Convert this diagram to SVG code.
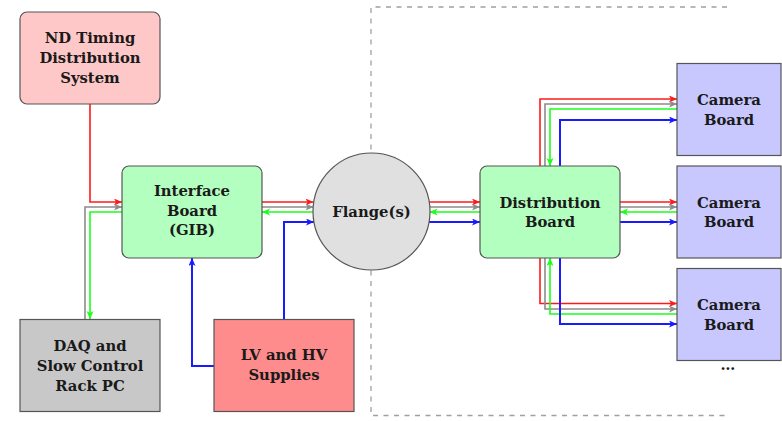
<svg xmlns="http://www.w3.org/2000/svg" width="782" height="421" viewBox="0 0 782 421">
<defs>
<style>
.node{stroke:#555;stroke-width:1.2}
.t{font-family:"DejaVu Serif","Liberation Serif",serif;font-weight:bold;font-size:14.8px;fill:#1a1a1a;text-anchor:middle}
.c{fill:none;stroke-width:1.6}
.r{stroke:#ff1a1a;marker-end:url(#ar)}
.g{stroke:#8c8c8c;marker-end:url(#ag)}
.gr{stroke:#1aff1a;marker-end:url(#agr)}
.b{stroke:#1a1aff;stroke-width:2;marker-end:url(#ab)}
</style>
<marker id="ar" markerUnits="userSpaceOnUse" markerWidth="10" markerHeight="8" refX="8" refY="3.5" orient="auto"><path d="M0,0 L8,3.5 L0,7 L2,3.5 z" fill="#ff1a1a"/></marker>
<marker id="ag" markerUnits="userSpaceOnUse" markerWidth="10" markerHeight="8" refX="8" refY="3.5" orient="auto"><path d="M0,0 L8,3.5 L0,7 L2,3.5 z" fill="#8c8c8c"/></marker>
<marker id="agr" markerUnits="userSpaceOnUse" markerWidth="10" markerHeight="8" refX="8" refY="3.5" orient="auto"><path d="M0,0 L8,3.5 L0,7 L2,3.5 z" fill="#1aff1a"/></marker>
<marker id="ab" markerUnits="userSpaceOnUse" markerWidth="10" markerHeight="8" refX="8" refY="3.5" orient="auto"><path d="M0,0 L8,3.5 L0,7 L2,3.5 z" fill="#1a1aff"/></marker>
</defs>
<rect width="782" height="421" fill="#fff"/>
<path id="boundary" d="M727,7 H371 V415.5 H727" fill="none" stroke="#a0a0a0" stroke-width="1.3" stroke-dasharray="5,5.5"/>
<g id="connectors">
<path class="c r" d="M90,104 V202 H122"/>
<path class="c g" d="M85,319 V207 H122"/>
<path class="c gr" d="M122,212 H90 V319"/>
<path class="c r" d="M262,202 H313.5"/>
<path class="c g" d="M262,207 H313.5"/>
<path class="c gr" d="M313.5,212 H262"/>
<path class="c b" d="M284,319 V222 H314"/>
<path class="c b" d="M214,366 H192 V258"/>
<path class="c r" d="M429.5,202 H480"/>
<path class="c g" d="M429.5,207 H480"/>
<path class="c gr" d="M480,212 H429.5"/>
<path class="c b" d="M429,222 H480"/>
<path class="c r" d="M620,202 H677"/>
<path class="c g" d="M620,207 H677"/>
<path class="c gr" d="M677,212 H620"/>
<path class="c b" d="M620,222 H677"/>
<path class="c r" d="M540,166 V99 H677"/>
<path class="c g" d="M545,166 V104 H677"/>
<path class="c gr" d="M677,109 H550 V166"/>
<path class="c b" d="M560,166 V120 H677"/>
<path class="c r" d="M540,258 V303.5 H677"/>
<path class="c g" d="M545,258 V309 H677"/>
<path class="c gr" d="M677,314 H550 V258"/>
<path class="c b" d="M560,258 V324 H677"/>
</g>
<g id="nd-timing">
<rect class="node" x="20" y="12" width="140" height="92" rx="7" fill="#ffc8c8"/>
<text class="t" x="90" y="42.5">ND Timing</text>
<text class="t" x="90" y="62.5">Distribution</text>
<text class="t" x="90" y="82.5">System</text>
</g>
<g id="interface-board">
<rect class="node" x="122" y="166" width="140" height="92" rx="7" fill="#b3ffbf"/>
<text class="t" x="192" y="196">Interface</text>
<text class="t" x="192" y="215.5">Board</text>
<text class="t" x="192" y="235">(GIB)</text>
</g>
<g id="flange">
<circle class="node" cx="371.5" cy="211.5" r="58.5" fill="#e0e0e0"/>
<text class="t" x="371.5" y="217">Flange(s)</text>
</g>
<g id="distribution-board">
<rect class="node" x="480" y="166" width="140" height="92" rx="7" fill="#b3ffbf"/>
<text class="t" x="550" y="207.5">Distribution</text>
<text class="t" x="550" y="227">Board</text>
</g>
<g id="camera-1">
<rect class="node" x="677" y="63.5" width="104" height="92" fill="#c8c8ff"/>
<text class="t" x="729" y="105">Camera</text>
<text class="t" x="729" y="124.5">Board</text>
</g>
<g id="camera-2">
<rect class="node" x="677" y="166" width="104" height="92" fill="#c8c8ff"/>
<text class="t" x="729" y="207.5">Camera</text>
<text class="t" x="729" y="227">Board</text>
</g>
<g id="camera-3">
<rect class="node" x="677" y="268.5" width="104" height="92" fill="#c8c8ff"/>
<text class="t" x="729" y="310">Camera</text>
<text class="t" x="729" y="329.5">Board</text>
</g>
<text class="t" x="728" y="370">…</text>
<g id="daq">
<rect class="node" x="20" y="319.5" width="140" height="92" fill="#c8c8c8"/>
<text class="t" x="90" y="351">DAQ and</text>
<text class="t" x="90" y="370.5">Slow Control</text>
<text class="t" x="90" y="390.5">Rack PC</text>
</g>
<g id="lv-hv">
<rect class="node" x="214" y="319.5" width="140" height="92" fill="#ff8c8c"/>
<text class="t" x="284" y="359.5">LV and HV</text>
<text class="t" x="284" y="379.5">Supplies</text>
</g>
</svg>
